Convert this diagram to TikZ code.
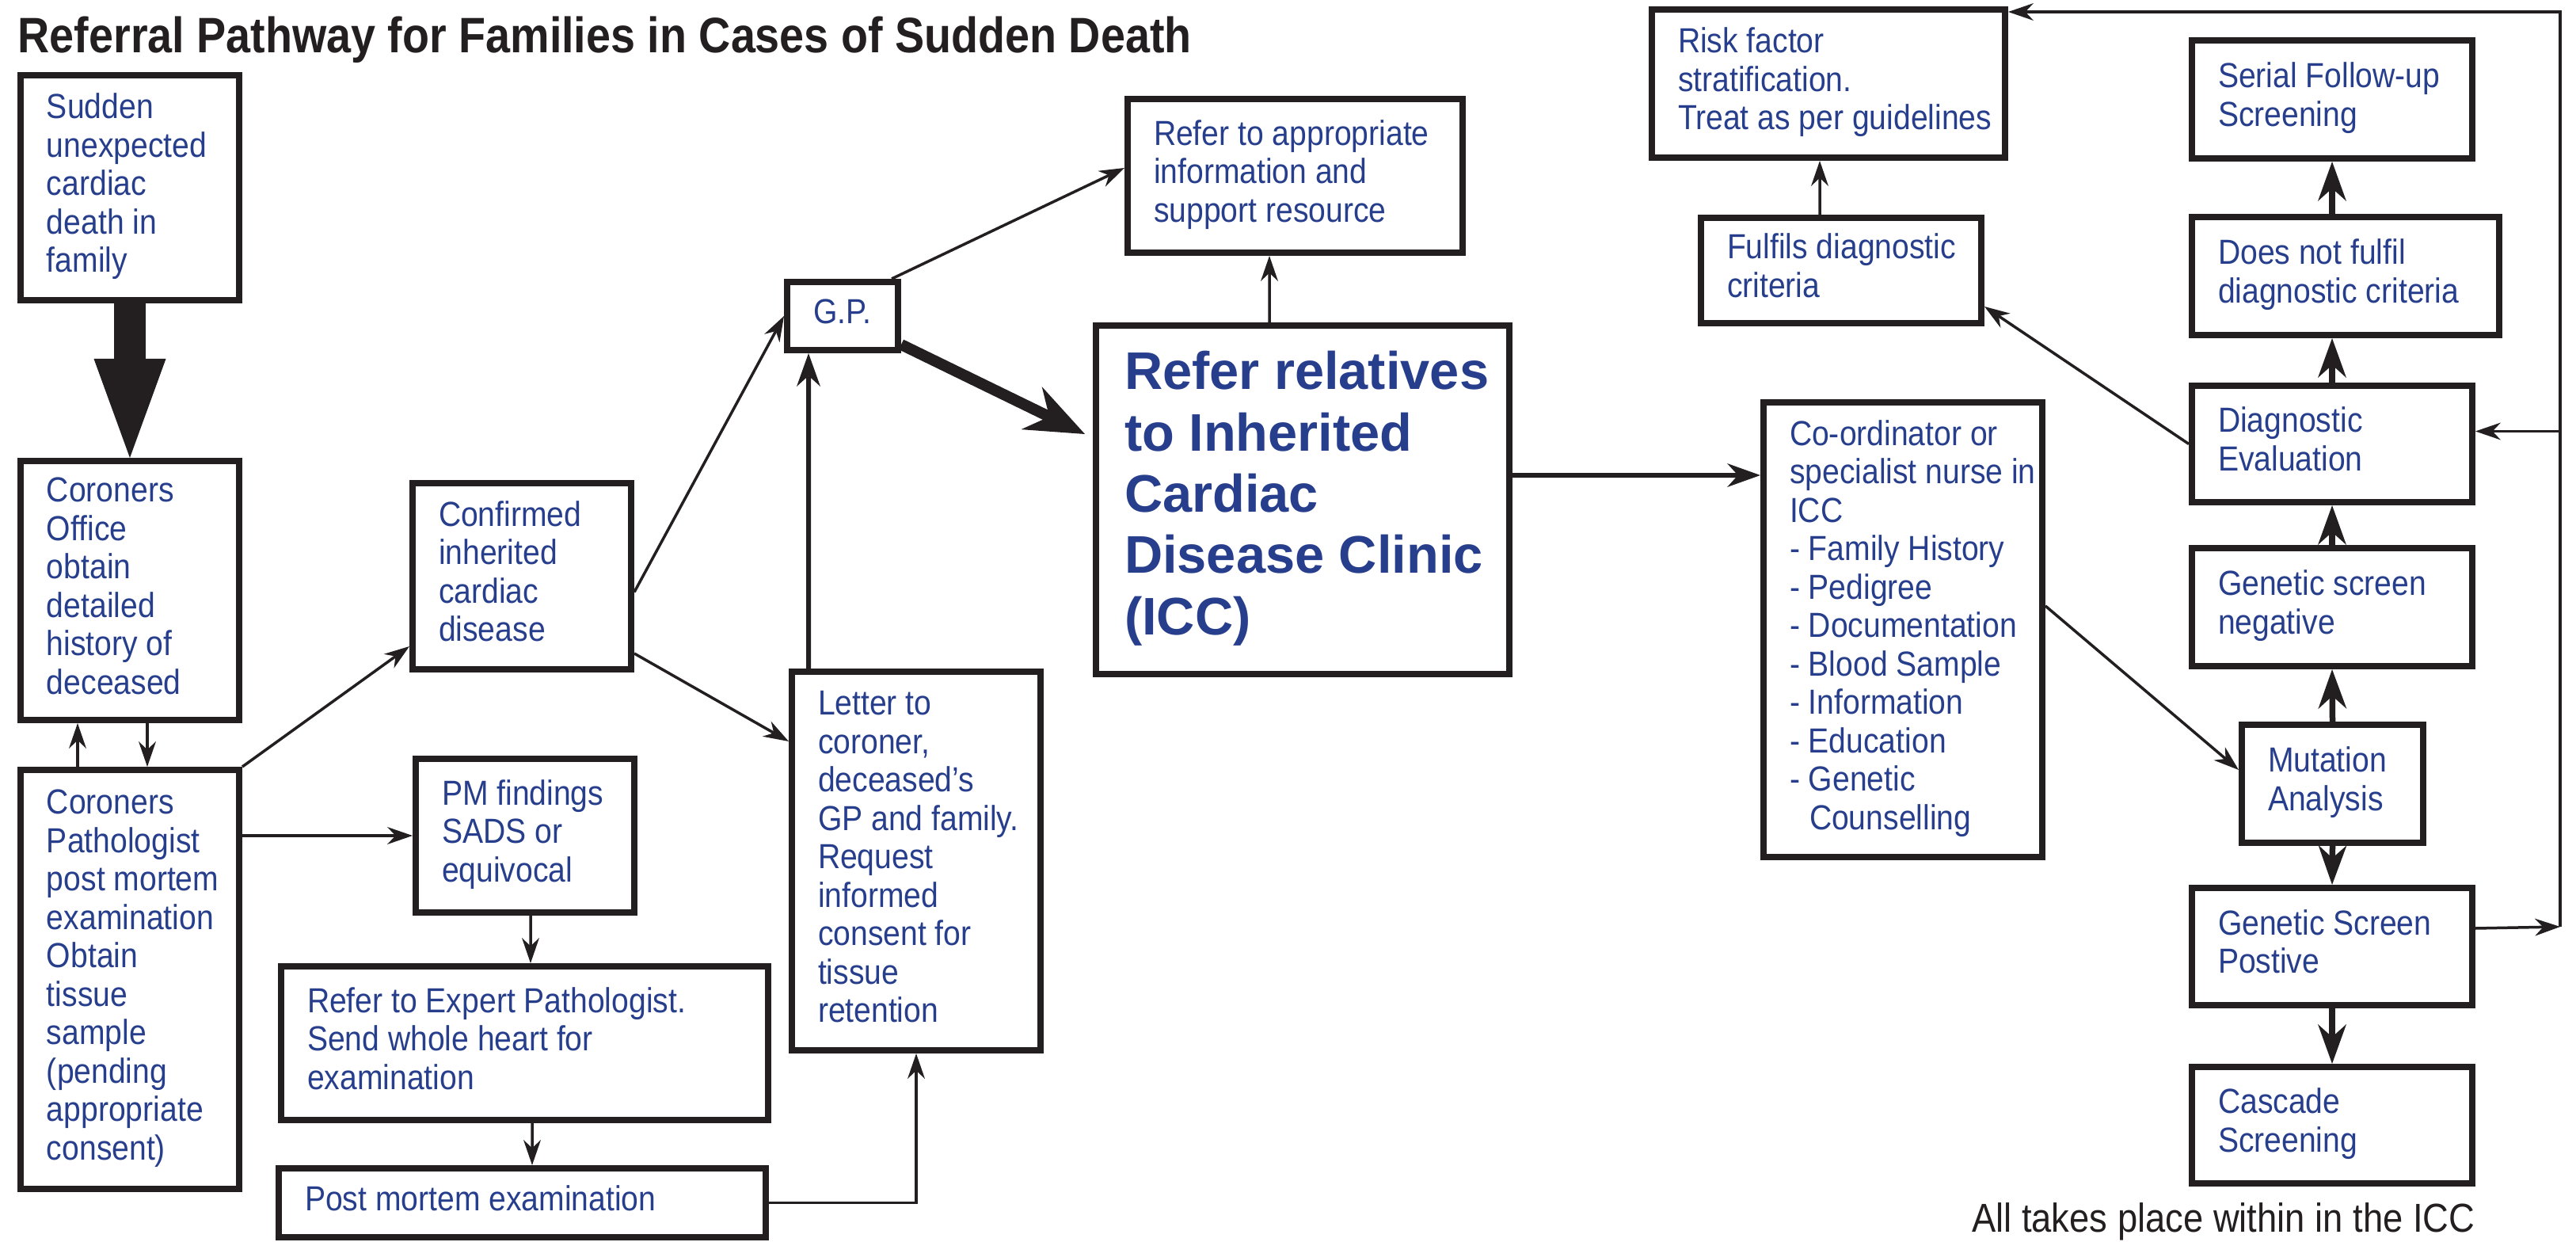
\documentclass[tikz,border=0pt]{standalone}
\usepackage{fontspec}
\setmainfont{Liberation Sans}[FakeStretch=0.89]
\newfontfamily\titlefont{Liberation Sans}[FakeStretch=0.885]
\newfontfamily\iccfont{Liberation Sans}
\usetikzlibrary{arrows.meta}
\definecolor{ink}{RGB}{35,31,32}
\definecolor{navy}{RGB}{38,62,140}
\newcommand{\boxlines}[2]{\makebox[#1][l]{\begin{tabular}{@{}l@{}}#2\end{tabular}}}

\begin{document}
\begin{tikzpicture}[stage/.style={draw=ink, line width=0.8mm, inner xsep=3.3mm, inner ysep=0pt, text=navy, font=\fontsize{12.5}{13.8}\selectfont},
link/.style={draw=ink, line width=0.35mm, -{Stealth[length=3.2mm, width=2.2mm, line width=0pt]}},
boldlink/.style={draw=ink, line width=0.6mm, -{Stealth[length=4.2mm, width=3mm, line width=0pt]}},
pipe/.style={draw=ink, line width=0.75mm, -{Stealth[length=5mm, width=3.6mm, line width=0pt]}},
fatlink/.style={draw=ink, line width=1.4mm, -{Stealth[length=7.5mm, width=6mm, inset=2.5mm, line width=0pt]}},
bigdown/.style={draw=ink, line width=4mm, -{Triangle[length=12.5mm, width=9.1mm, line width=0pt]}}]
\useasboundingbox (0,0) rectangle (32.53,-15.68);

\node[anchor=base west, inner sep=0pt, text=ink, font=\titlefont\bfseries\fontsize{17.9}{20}\selectfont] (title) at (0.22,-0.67) {Referral Pathway for Families in Cases of Sudden Death};

% left column
\node[stage, minimum height=2.84cm] (sudden) at (1.64,-2.37) {\boxlines{2.10cm}{Sudden\\unexpected\\cardiac\\death in\\family}};
\node[stage, minimum height=3.27cm] (office) at (1.64,-7.455) {\boxlines{2.10cm}{Coroners\\Office\\obtain\\detailed\\history of\\deceased}};
\node[stage, minimum height=5.29cm] (patho) at (1.64,-12.365) {\boxlines{2.10cm}{Coroners\\Pathologist\\post mortem\\examination\\Obtain\\tissue\\sample\\(pending\\appropriate\\consent)}};

% middle
\node[stage, minimum height=2.35cm] (confirmed) at (6.59,-7.275) {\boxlines{2.10cm}{Confirmed\\inherited\\cardiac\\disease}};
\node[stage, minimum height=1.94cm] (pm) at (6.63,-10.55) {\boxlines{2.10cm}{PM findings\\SADS or\\equivocal}};
\node[stage, minimum height=1.94cm] (expert) at (6.625,-13.17) {\boxlines{5.49cm}{Refer to Expert Pathologist.\\Send whole heart for\\examination}};
\node[stage, minimum height=0.87cm] (postmortem) at (6.595,-15.185) {\boxlines{5.49cm}{Post mortem examination}};
\node[stage, minimum height=0.86cm] (gp) at (10.64,-3.99) {\boxlines{0.74cm}{G.P.}};
\node[stage, minimum height=4.78cm] (letter) at (11.57,-10.87) {\boxlines{2.48cm}{Letter to\\coroner,\\deceased’s\\GP and family.\\Request\\informed\\consent for\\tissue\\retention}};
\node[stage, minimum height=1.94cm] (resource) at (16.355,-2.22) {\boxlines{3.57cm}{Refer to appropriate\\information and\\support resource}};
\node[stage, inner xsep=3.6mm, minimum height=4.40cm, font=\iccfont\bfseries\fontsize{19}{22}\selectfont] (icc) at (16.45,-6.31) {\boxlines{4.50cm}{Refer relatives\\to Inherited\\Cardiac\\Disease Clinic\\(ICC)}};

% ICC side
\node[stage, minimum height=5.74cm] (nurse) at (24.03,-7.95) {\boxlines{2.86cm}{Co-ordinator or\\specialist nurse in\\ICC\\- Family History\\- Pedigree\\- Documentation\\- Blood Sample\\- Information\\- Education\\- Genetic\\\hspace*{2.5mm}Counselling}};
\node[stage, minimum height=1.87cm] (risk) at (23.09,-1.055) {\boxlines{3.80cm}{Risk factor\\stratification.\\Treat as per guidelines}};
\node[stage, minimum height=1.33cm] (fulfils) at (23.25,-3.415) {\boxlines{2.88cm}{Fulfils diagnostic\\criteria}};
\node[stage, minimum height=1.49cm] (serial) at (29.45,-1.255) {\boxlines{2.88cm}{Serial Follow-up\\Screening}};
\node[stage, minimum height=1.49cm] (notfulfil) at (29.62,-3.485) {\boxlines{3.22cm}{Does not fulfil\\diagnostic criteria}};
\node[stage, minimum height=1.47cm] (diageval) at (29.45,-5.605) {\boxlines{2.88cm}{Diagnostic\\Evaluation}};
\node[stage, minimum height=1.49cm] (gsneg) at (29.45,-7.665) {\boxlines{2.88cm}{Genetic screen\\negative}};
\node[stage, minimum height=1.49cm] (mutation) at (29.455,-9.895) {\boxlines{1.63cm}{Mutation\\Analysis}};
\node[stage, minimum height=1.48cm] (gspos) at (29.45,-11.95) {\boxlines{2.88cm}{Genetic Screen\\Postive}};
\node[stage, minimum height=1.47cm] (cascade) at (29.45,-14.205) {\boxlines{2.88cm}{Cascade\\Screening}};

\node[anchor=base east, inner sep=0pt, text=ink, font=\fontsize{14.5}{16}\selectfont] (note) at (31.26,-15.55) {All takes place within in the ICC};

% connectors, left part
\draw[bigdown] (sudden) -- (office);
\draw[link] ([xshift=-6.6mm]patho.north) -- ([xshift=-6.6mm]office.south);
\draw[link] ([xshift=2.2mm]office.south) -- ([xshift=2.2mm]patho.north);
\draw[link] (patho.north east) -- ([yshift=-8.85mm]confirmed.west);
\draw[link] (patho.east |- pm.west) -- (pm.west);
\draw[link] ([xshift=0.7mm]pm.south) -- ([xshift=0.75mm]expert.north);
\draw[link] ([xshift=0.95mm]expert.south) -- ([xshift=1.25mm]postmortem.north);
\draw[link] (postmortem.east) -| (letter.south);
\draw[link] ([yshift=-2mm]confirmed.east) -- (gp.west);
\draw[link] ([yshift=2.4mm]confirmed.south east) -- ([yshift=-9.2mm]letter.north west);
\draw[boldlink] ([xshift=-13.6mm]letter.north) -- ([xshift=-4.3mm]gp.south);
\draw[link] ([xshift=-1.2mm]gp.north east) -- ([yshift=1mm]resource.west);
\coordinate (iccin) at ([xshift=-1mm, yshift=8.3mm]icc.west);
\draw[fatlink] (gp) -- (iccin);
\draw[link] ([xshift=-4.2mm]icc.north) -- ([xshift=-3.25mm]resource.south);
\draw[boldlink] ([yshift=3.1mm]icc.east) -- ([yshift=19.5mm]nurse.west);

% connectors, ICC part
\draw[link] ([yshift=3mm]nurse.east) -- ([yshift=1.75mm]mutation.west);
\draw[link] (diageval.west) -- ([yshift=2.5mm]fulfils.south east);
\draw[link] ([xshift=-2.7mm]fulfils.north) -- ([xshift=-1.1mm]risk.south);
\draw[pipe] (mutation.north) -- (gsneg.south);
\draw[pipe] (gsneg.north) -- (diageval.south);
\draw[pipe] (diageval.north) -- (diageval.north |- notfulfil.south);
\draw[pipe] (notfulfil.north -| serial.south) -- (serial.south);
\draw[pipe] (mutation.south) -- (gspos.north);
\draw[pipe] (gspos.south) -- (cascade.north);

% feedback rail
\coordinate (railtop) at (32.33,-0.15);
\coordinate (railbot) at (32.33,-11.70);
\coordinate (diagin) at ([yshift=1.6mm]diageval.east);
\draw[link] ([yshift=2.3mm]gspos.east) -- (railbot);
\draw[link] (railbot) -- (railtop) -- (railtop -| risk.east);
\draw[link] (railtop |- diagin) -- (diagin);
\end{tikzpicture}
\end{document}
